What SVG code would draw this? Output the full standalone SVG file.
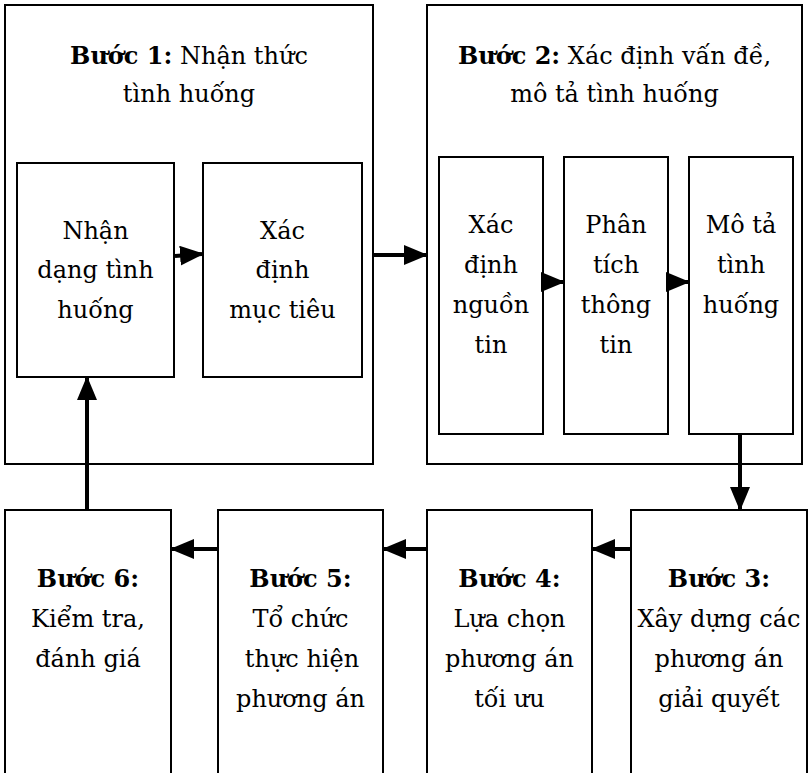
<svg xmlns="http://www.w3.org/2000/svg" width="809" height="773" viewBox="0 0 809 773">
<style>
.box{fill:#fff;stroke:#000;stroke-width:2}
.t{font-family:"DejaVu Serif","Liberation Serif",serif;font-size:24px;fill:#000;text-anchor:middle}
.b{font-weight:bold}
.c{stroke:#000;stroke-width:4;fill:none}
</style>
<defs>
<marker id="ah" markerWidth="6" markerHeight="5" refX="5.5" refY="2.5" orient="auto" markerUnits="strokeWidth">
<path d="M0,0 L6,2.5 L0,5 Z" fill="#000"/>
</marker>
</defs>
<rect width="809" height="773" fill="#fff"/>
<g id="step1">
<rect class="box" x="5" y="5" width="368" height="459"/>
<text class="t" x="189" y="64"><tspan class="b">Bước 1:</tspan> Nhận thức</text>
<text class="t" x="189" y="102">tình huống</text>
</g>
<g id="nhan-dang">
<rect class="box" x="17" y="163" width="157" height="214"/>
<text class="t" x="95.5" y="239">Nhận</text>
<text class="t" x="95.5" y="278">dạng tình</text>
<text class="t" x="95.5" y="318">huống</text>
</g>
<g id="muc-tieu">
<rect class="box" x="203" y="163" width="159" height="214"/>
<text class="t" x="282.5" y="239">Xác</text>
<text class="t" x="282.5" y="278">định</text>
<text class="t" x="282.5" y="318">mục tiêu</text>
</g>
<g id="step2">
<rect class="box" x="427" y="5" width="375" height="459"/>
<text class="t" x="614.5" y="64"><tspan class="b">Bước 2:</tspan> Xác định vấn đề,</text>
<text class="t" x="614.5" y="102">mô tả tình huống</text>
</g>
<g id="nguon-tin">
<rect class="box" x="439" y="157" width="104" height="277"/>
<text class="t" x="491" y="233">Xác</text>
<text class="t" x="491" y="273">định</text>
<text class="t" x="491" y="313">nguồn</text>
<text class="t" x="491" y="353">tin</text>
</g>
<g id="phan-tich">
<rect class="box" x="564" y="157" width="104" height="277"/>
<text class="t" x="616" y="233">Phân</text>
<text class="t" x="616" y="273">tích</text>
<text class="t" x="616" y="313">thông</text>
<text class="t" x="616" y="353">tin</text>
</g>
<g id="mo-ta">
<rect class="box" x="689" y="157" width="104" height="277"/>
<text class="t" x="741" y="233">Mô tả</text>
<text class="t" x="741" y="273">tình</text>
<text class="t" x="741" y="313">huống</text>
</g>
<g id="step6">
<rect class="box" x="5" y="510" width="166" height="275"/>
<text class="t b" x="88" y="587">Bước 6:</text>
<text class="t" x="88" y="627">Kiểm tra,</text>
<text class="t" x="88" y="667">đánh giá</text>
</g>
<g id="step5">
<rect class="box" x="218" y="510" width="165" height="275"/>
<text class="t b" x="300.5" y="587">Bước 5:</text>
<text class="t" x="300.5" y="627">Tổ chức</text>
<text class="t" x="302" y="667">thực hiện</text>
<text class="t" x="300.5" y="707">phương án</text>
</g>
<g id="step4">
<rect class="box" x="427" y="510" width="165" height="275"/>
<text class="t b" x="509.5" y="587">Bước 4:</text>
<text class="t" x="509.5" y="627">Lựa chọn</text>
<text class="t" x="509.5" y="667">phương án</text>
<text class="t" x="509.5" y="707">tối ưu</text>
</g>
<g id="step3">
<rect class="box" x="631" y="510" width="176" height="275"/>
<text class="t b" x="719" y="587">Bước 3:</text>
<text class="t" x="719" y="627">Xây dựng các</text>
<text class="t" x="719" y="667">phương án</text>
<text class="t" x="719" y="707">giải quyết</text>
</g>
<g id="connectors">
<path class="c" d="M175,256 L202,254" marker-end="url(#ah)"/>
<path class="c" d="M374,255 L426,255" marker-end="url(#ah)"/>
<path class="c" d="M544,282 L563,282" marker-end="url(#ah)"/>
<path class="c" d="M669,282 L688,282" marker-end="url(#ah)"/>
<path class="c" d="M740,435 L740,509" marker-end="url(#ah)"/>
<path class="c" d="M630,549 L593,549" marker-end="url(#ah)"/>
<path class="c" d="M426,549 L384,549" marker-end="url(#ah)"/>
<path class="c" d="M217,549 L172,549" marker-end="url(#ah)"/>
<path class="c" d="M87,509 L87,378" marker-end="url(#ah)"/>
</g>
</svg>
